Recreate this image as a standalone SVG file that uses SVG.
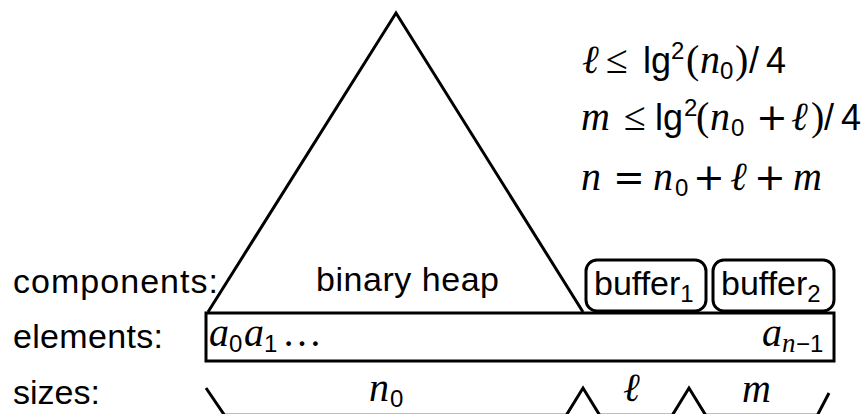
<svg xmlns="http://www.w3.org/2000/svg" width="868" height="414" viewBox="0 0 868 414">
<style>
.ln{fill:none;stroke:#000;stroke-width:3;stroke-linejoin:miter}
.sf{font-family:"Liberation Sans",Arial,sans-serif;font-size:34px;fill:#000}
.mi{font-family:"Liberation Serif","Times New Roman",serif;font-style:italic;font-size:40px;fill:#000}
.mr{font-family:"Liberation Serif","Times New Roman",serif;font-size:40px;fill:#000}
.mo{font-family:"DejaVu Sans",sans-serif;font-size:38px;fill:#000}
.ms{font-family:"Liberation Sans",Arial,sans-serif;font-size:36px;fill:#000}
.sub{font-family:"Liberation Sans",Arial,sans-serif;font-size:24px;fill:#000}
.subi{font-family:"Liberation Serif","Times New Roman",serif;font-style:italic;font-size:27px;fill:#000}
</style>
<rect width="868" height="414" fill="#fff"/>
<g id="labels">
<text class="sf" x="13" y="293" textLength="205" lengthAdjust="spacing">components:</text>
<text class="sf" x="13" y="348" textLength="150" lengthAdjust="spacing">elements:</text>
<text class="sf" x="13" y="404">sizes:</text>
</g>
<g id="heap">
<polyline class="ln" points="208,312 396,13 583,312"/>
<text class="sf" x="316" y="291" textLength="183" lengthAdjust="spacing">binary heap</text>
</g>
<g id="buffer1">
<rect class="ln" x="586" y="260" width="120" height="51" rx="11"/>
<text class="sf" x="594" y="295">buffer<tspan class="sub" dy="7">1</tspan></text>
</g>
<g id="buffer2">
<rect class="ln" x="713" y="260" width="121" height="51" rx="11"/>
<text class="sf" x="721" y="295">buffer<tspan class="sub" dy="7">2</tspan></text>
</g>
<g id="elements">
<rect class="ln" x="206" y="313" width="628" height="48"/>
<text class="mi" x="209" y="346">a</text><text class="sub" x="229" y="352">0</text>
<text class="mi" x="244" y="346">a</text><text class="sub" x="264" y="352">1</text>
<text class="mr" x="282" y="346" textLength="44" lengthAdjust="spacing">…</text>
<text class="mi" x="762" y="346">a</text><text class="subi" x="782" y="352">n</text><text class="sub" x="796" y="352">−1</text>
</g>
<g id="connectors">
<polyline class="ln" points="206,388 224.5,415.2 566.3,415.2 583,388 599.7,415.2 672.3,415.2 689,388 705.7,415.2 817.4,415.2 829,393"/>
<text class="mi" x="369" y="401">n</text><text class="sub" x="390" y="407">0</text>
<text class="mi" x="623" y="401">ℓ</text>
<text class="mi" x="742" y="402">m</text>
</g>
<g id="equations">
<text class="mi" x="582" y="73">ℓ</text>
<text class="mr" x="606" y="73">≤</text>
<text class="ms" x="643" y="73">lg</text>
<text class="sub" x="671" y="59">2</text>
<text class="mr" x="686" y="73">(</text>
<text class="mi" x="700" y="73">n</text>
<text class="sub" x="720" y="79">0</text>
<text class="mr" x="735" y="73">)</text>
<text class="ms" x="749" y="73">/</text>
<text class="ms" x="766" y="73">4</text>

<text class="mi" x="581" y="130">m</text>
<text class="mr" x="624" y="130">≤</text>
<text class="ms" x="655" y="130">lg</text>
<text class="sub" x="684" y="116">2</text>
<text class="mr" x="696" y="130">(</text>
<text class="mi" x="710" y="130">n</text>
<text class="sub" x="731" y="136">0</text>
<text class="mo" x="756" y="130">+</text>
<text class="mi" x="791" y="130">ℓ</text>
<text class="mr" x="811" y="130">)</text>
<text class="ms" x="824" y="130">/</text>
<text class="ms" x="841" y="130">4</text>

<text class="mi" x="581" y="190">n</text>
<text class="mo" x="613" y="190">=</text>
<text class="mi" x="653" y="190">n</text>
<text class="sub" x="675" y="196">0</text>
<text class="mo" x="693" y="190">+</text>
<text class="mi" x="730" y="190">ℓ</text>
<text class="mo" x="754" y="190">+</text>
<text class="mi" x="793" y="190">m</text>
</g>
</svg>
